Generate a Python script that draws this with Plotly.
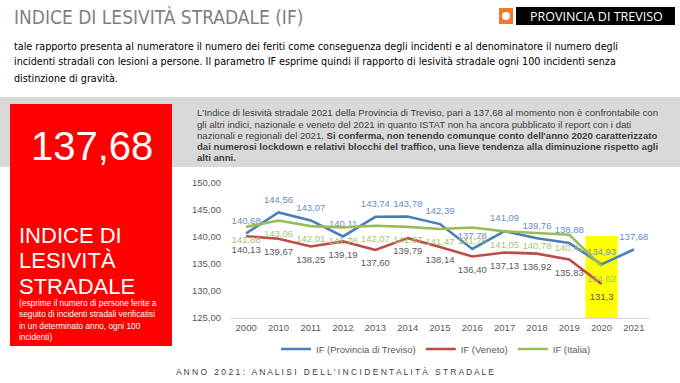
import plotly.graph_objects as go

# ---------------- data ----------------
years = ["2000", "2010", "2011", "2012", "2013", "2014", "2015", "2016", "2017", "2018", "2019", "2020", "2021"]
if_treviso = [140.68, 144.56, 143.07, 140.11, 143.74, 143.78, 142.39, 137.78, 141.09, 139.76, 138.88, 134.93, 137.68]
if_veneto = [140.13, 139.67, 138.25, 139.19, 137.60, 139.79, 138.14, 136.40, 137.13, 136.92, 135.83, 131.3, None]
veneto_decimals = [2, 2, 2, 2, 2, 2, 2, 2, 2, 2, 2, 1, 2]
if_italia = [141.88, 143.06, 142.01, 141.78, 142.07, 141.87, 141.47, 141.75, 141.05, 140.78, 140.41, 134.62, None]
series_names = ["IF (Provincia di Treviso)", "IF (Veneto)", "IF (Italia)"]
y_ticks = [125, 130, 135, 140, 145, 150]
highlight_year = "2020"
highlight_top = 140.2

W, H = 680, 383
ML, MR, MT, MB = 230, 30, 183, 65
PW = W - ML - MR
PH = H - MT - MB
BOTTOM = H - MB


def X(px):
    return (px - ML) / PW


def Y(py):
    return (BOTTOM - py) / PH


def fmt(v, dec=2):
    if v is None:
        return ""
    return f"{v:.{dec}f}".replace(".", ",")


lab_treviso = [fmt(v) for v in if_treviso]
lab_veneto = [fmt(v, d) for v, d in zip(if_veneto, veneto_decimals)]
lab_italia = [fmt(v) for v in if_italia]

ARIAL = "Liberation Sans, Arial, sans-serif"
NARROW = "Liberation Sans Narrow, Arial Narrow, DejaVu Sans Condensed, sans-serif"

fig = go.Figure()


def add_series(y, name, color, labels, pos, lab_color, msize):
    fig.add_trace(go.Scatter(
        x=years, y=y, name=name, mode="lines+markers+text",
        line=dict(color=color, width=2.6),
        marker=dict(size=msize, color="rgba(0,0,0,0)"),
        text=labels, textposition=pos,
        textfont=dict(family=ARIAL, size=9.5, color=lab_color), cliponaxis=False))


add_series(if_treviso, series_names[0], "#4a7ebb", lab_treviso, "top center", "#6a8cc7", 10)
add_series(if_veneto, series_names[1], "#be4b48", lab_veneto, "bottom center", "#595959", 13)
add_series(if_italia, series_names[2], "#9bbb59", lab_italia, "bottom center", "#a6c36f", 13)

shapes = []
# gray band
shapes.append(dict(type="rect", xref="paper", yref="paper", x0=X(0), x1=X(680), y0=Y(167), y1=Y(97),
                   fillcolor="#d9d9d9", line_width=0, layer="below"))
# red box
shapes.append(dict(type="rect", xref="paper", yref="paper", x0=X(10), x1=X(172), y0=Y(346), y1=Y(104),
                   fillcolor="#ff0000", line_width=0, layer="below"))
# logo
shapes.append(dict(type="rect", xref="paper", yref="paper", x0=X(499), x1=X(513), y0=Y(24), y1=Y(8),
                   fillcolor="#f0782d", line_width=0))
shapes.append(dict(type="circle", xref="paper", yref="paper", x0=X(502), x1=X(510), y0=Y(20), y1=Y(12),
                   fillcolor="#ffffff", line_width=0))
shapes.append(dict(type="rect", xref="paper", yref="paper", x0=X(516), x1=X(675), y0=Y(25), y1=Y(7),
                   fillcolor="#000000", line_width=0))
# highlight
hi = years.index(highlight_year)
shapes.append(dict(type="rect", xref="x", yref="y", x0=hi - 0.5, x1=hi + 0.5, y0=y_ticks[0], y1=highlight_top,
                   fillcolor="#ffff00", line_width=0, layer="below"))

ann = []


def add_text(txt, x, y, size, color, family=ARIAL, xanchor="left"):
    ann.append(dict(text=txt, xref="paper", yref="paper", x=X(x), y=Y(y), xanchor=xanchor, yanchor="middle",
                    showarrow=False, font=dict(family=family, size=size, color=color)))


add_text("INDICE DI LESIVITÀ STRADALE (IF)", 12, 17, 19, "#7f7f7f", NARROW)
header_lines = [
    "tale rapporto presenta al numeratore il numero dei feriti come conseguenza degli incidenti e al denominatore il numero degli",
    "incidenti stradali con lesioni a persone. Il parametro IF esprime quindi il rapporto di lesività stradale ogni 100 incidenti senza",
    "distinzione di gravità.",
]
for i, t in enumerate(header_lines):
    add_text(t, 12, 46 + i * 16, 10.7, "#000000", NARROW)

add_text("PROVINCIA DI TREVISO", 596, 16, 12.5, "#ffffff", "Open Sans, Noto Sans, sans-serif", "center")

band_lines = [
    "L'Indice di lesività stradale 2021 della Provincia di Treviso, pari a 137,68 al momento non è confrontabile con",
    "gli altri indici, nazionale e veneto del 2021 in quanto ISTAT non ha ancora pubblicato il report con i dati",
    "nazionali e regionali del 2021. <b>Si conferma, non tenendo comunque conto dell'anno 2020 caratterizzato</b>",
    "<b>dai numerosi lockdown e relativi blocchi del traffico, una lieve tendenza alla diminuzione rispetto agli</b>",
    "<b>alti anni.</b>",
]
for i, t in enumerate(band_lines):
    add_text(t, 195, 113 + i * 11.2, 9.6, "#404040")

add_text(fmt(if_treviso[-1]), 92, 146, 40, "#ffffff", ARIAL, "center")
for i, t in enumerate(["INDICE DI", "LESIVITÀ", "STRADALE"]):
    add_text(t, 17, 235 + i * 25.5, 22, "#ffffff")
small_lines = [
    "(esprime il numero di persone ferite a",
    "seguito di incidenti stradali verificatisi",
    "in un determinato anno, ogni 100",
    "incidenti)",
]
for i, t in enumerate(small_lines):
    add_text(t, 17, 303 + i * 11.3, 8.3, "#ffffff")

footer = "ANNO 2021: ANALISI DELL'INCIDENTALITÀ STRADALE"
spaced = "   ".join(" ".join(list(w)) for w in footer.split(" "))
add_text(spaced, 174, 372, 8.5, "#404040")

fig.update_layout(
    width=W, height=H,
    margin=dict(l=ML, r=MR, t=MT, b=MB, pad=0),
    paper_bgcolor="#ffffff", plot_bgcolor="rgba(0,0,0,0)",
    separators=",.",
    showlegend=True,
    legend=dict(orientation="h", x=X(436), xanchor="center", y=Y(349), yanchor="middle",
                font=dict(family=ARIAL, size=9.5, color="#595959"), itemwidth=30,
                bgcolor="rgba(0,0,0,0)"),
    shapes=shapes,
    annotations=ann,
    xaxis=dict(type="category", range=[-0.5, len(years) - 0.5], showgrid=False, showline=True,
               linecolor="#d9d9d9", linewidth=1.3, ticks="", zeroline=False,
               tickfont=dict(family=ARIAL, size=9.5, color="#595959")),
    yaxis=dict(range=[y_ticks[0], y_ticks[-1]], tickvals=y_ticks, tickformat=".2f", showgrid=False,
               showline=False, zeroline=False, ticks="", ticklabelstandoff=8,
               tickfont=dict(family=ARIAL, size=9.5, color="#595959")),
)

fig.write_html("out.html", config={"displayModeBar": False},
               post_script="document.body.style.margin='0';document.body.style.overflow='hidden';")
